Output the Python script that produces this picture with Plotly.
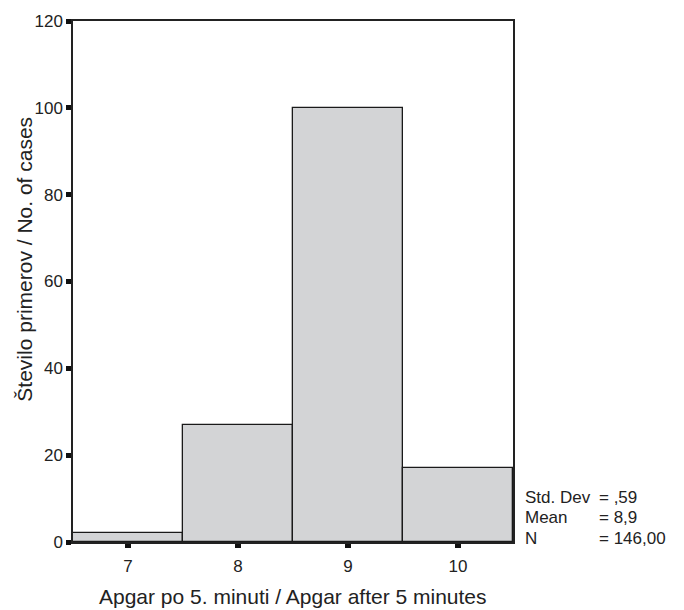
import plotly.graph_objects as go

scores = [7, 8, 9, 10]
counts = [2, 27, 100, 17]
y_ticks = [0, 20, 40, 60, 80, 100, 120]
stat_labels = ["Std. Dev", "Mean", "N"]
stat_values = ["= ,59", "= 8,9", "= 146,00"]
x_title = "Apgar po 5. minuti / Apgar after 5 minutes"
y_title = "Število primerov / No. of cases"

FONT = "Liberation Sans, Arial, sans-serif"
INK = "#222"

fig = go.Figure(go.Bar(
    x=scores, y=counts, width=1,
    marker=dict(color="#d3d4d6", line=dict(color="#1a1a1a", width=1.3)),
))

fig.update_layout(
    width=684, height=610,
    margin=dict(l=73, r=171, t=18, b=68),
    paper_bgcolor="white", plot_bgcolor="white",
    showlegend=False,
    font=dict(family=FONT, size=17, color=INK),
    bargap=0,
)
fig.update_xaxes(
    range=[6.5, 10.5], tickvals=scores, ticktext=[str(s) for s in scores],
    showline=True, linecolor=INK, linewidth=1.5, mirror=True,
    ticks="outside", ticklen=4, tickwidth=6, tickcolor="#111",
    showgrid=False, zeroline=False, ticklabelstandoff=4,
)
fig.update_yaxes(
    range=[0, 120], tickvals=y_ticks,
    showline=True, linecolor=INK, linewidth=1.5, mirror=True,
    ticks="outside", ticklen=5, tickwidth=5, tickcolor="#111",
    showgrid=False, zeroline=False, ticklabelstandoff=0,
)

# axis titles
fig.add_annotation(xref="paper", yref="paper", x=0.5, y=-0.105,
                   xanchor="center", yanchor="middle", showarrow=False,
                   text=x_title, font=dict(size=21, family=FONT, color=INK))
fig.add_annotation(xref="paper", yref="paper", x=-0.109, y=0.542,
                   xanchor="center", yanchor="middle", showarrow=False, textangle=-90,
                   text=y_title, font=dict(size=21, family=FONT, color=INK))

# statistics box
stat_y = [0.0859, 0.0477, 0.0076]
for lab, val, yy in zip(stat_labels, stat_values, stat_y):
    fig.add_annotation(xref="paper", yref="paper", x=1.0227, y=yy,
                       xanchor="left", yanchor="middle", showarrow=False,
                       text=lab, font=dict(size=17, family=FONT, color=INK))
    fig.add_annotation(xref="paper", yref="paper", x=1.19, y=yy,
                       xanchor="left", yanchor="middle", showarrow=False,
                       text=val, font=dict(size=17, family=FONT, color=INK))

fig.write_html("out.html", config={"displayModeBar": False},
               post_script="document.body.style.margin='0';")
